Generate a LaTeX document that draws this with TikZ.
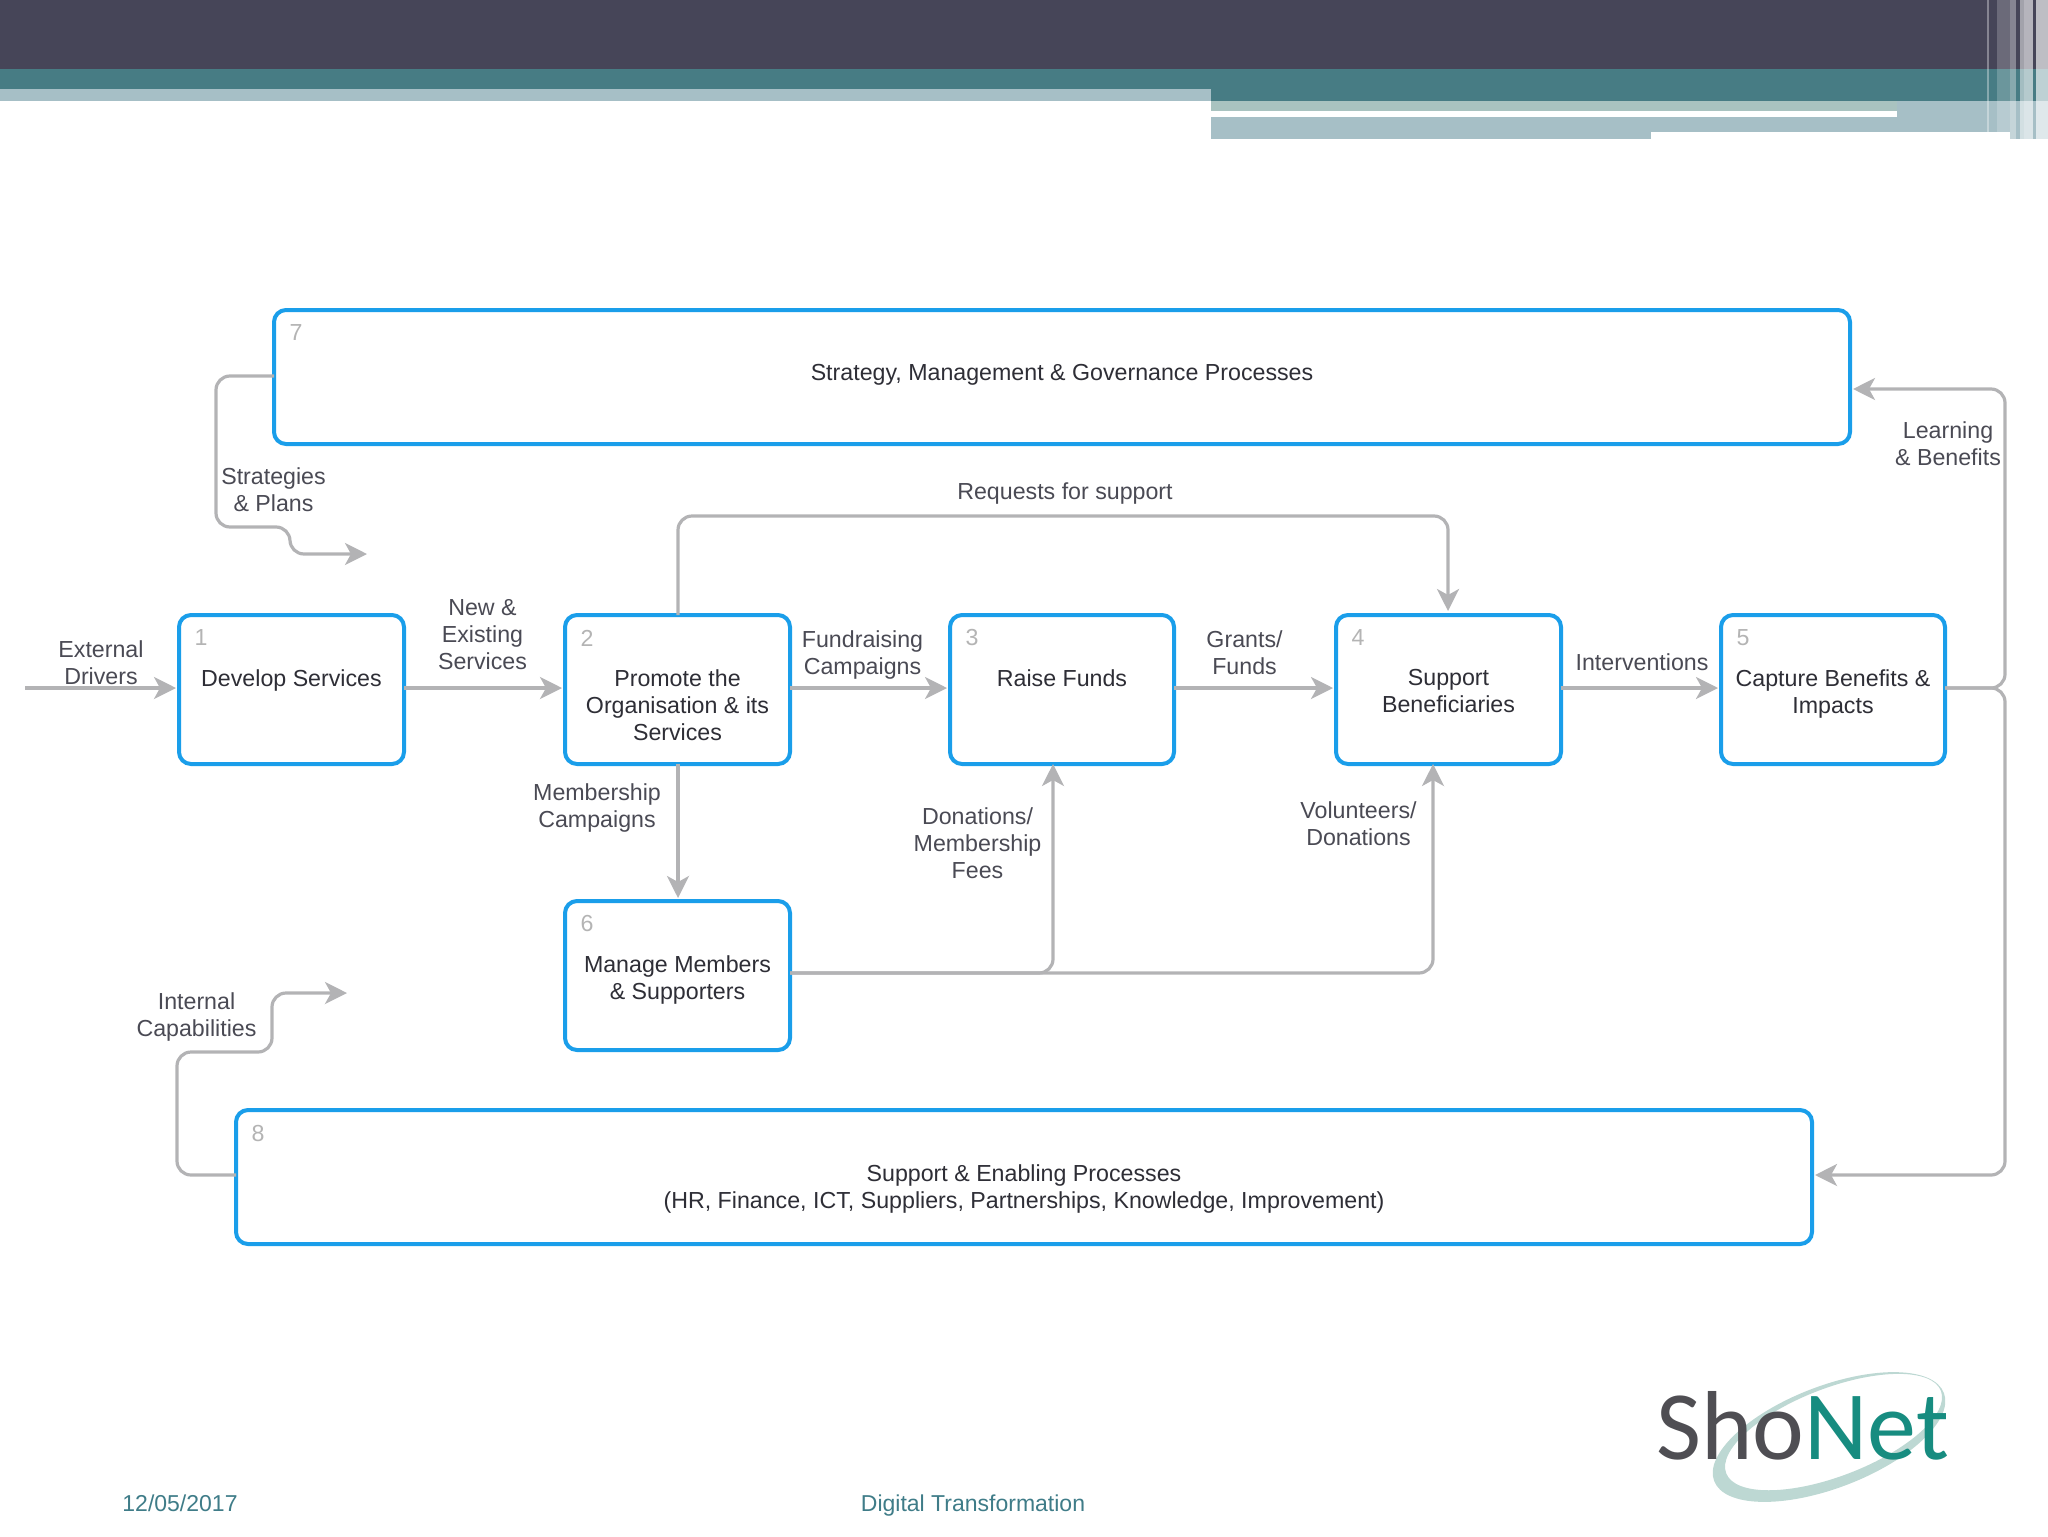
\documentclass[tikz,border=0pt]{standalone}
\usepackage{fontspec}
\setmainfont{Liberation Sans}
\newfontfamily\logofont{Carlito}
\usetikzlibrary{arrows.meta}
\definecolor{bandDark}{HTML}{464558}
\definecolor{bandTeal}{HTML}{477C84}
\definecolor{bandLight}{HTML}{A6BFC6}
\definecolor{bandSage}{HTML}{A9C3C0}
\definecolor{boxBlue}{HTML}{1A9EEA}
\definecolor{lineGray}{HTML}{B3B3B5}
\definecolor{labelInk}{HTML}{4A4A54}
\definecolor{boxInk}{HTML}{2E2E36}
\definecolor{numGray}{HTML}{B4B4B4}
\definecolor{footInk}{HTML}{3F7C88}
\definecolor{logoDark}{HTML}{4F4E53}
\definecolor{logoTeal}{HTML}{178C80}
\definecolor{logoRing}{HTML}{BDD8D3}
\newcommand{\procbody}[3]{\parbox[c][#2pt][t]{#1pt}{\centering\vspace*{27.2pt}#3\par}}
\tikzset{
  procbox/.style={draw=boxBlue,line width=2pt,rounded corners=6pt,inner sep=0pt,outer sep=0pt,fill=white,text=boxInk,font=\fontsize{11.6}{13.5}\selectfont},
  conn/.style={draw=lineGray,line width=1.6pt,rounded corners=7pt},
  arr/.style={conn,-{Stealth[length=11pt,width=11pt,inset=3pt]},shorten >=1.5pt},
  flowlabel/.style={text=labelInk,align=center,inner sep=0pt,font=\fontsize{11.6}{13.5}\selectfont},
  numlab/.style={text=numGray,inner sep=0pt,font=\fontsize{11.6}{13.5}\selectfont},
  footlabel/.style={text=footInk,inner sep=0pt,font=\fontsize{11.5}{13.5}\selectfont}
}
\begin{document}
\begin{tikzpicture}[x=0.5pt,y=-0.5pt]
\useasboundingbox (0,0) rectangle (2048,1536);
% header bands
\fill[bandDark] (0,0) rectangle (2048,69);
\fill[bandTeal] (0,69) rectangle (2048,101);
\fill[bandLight] (0,89) rectangle (1211,101);
\fill[bandLight] (1211,101) rectangle (2048,132);
\fill[bandSage] (1211,101) rectangle (1897,111);
\fill[bandLight] (1211,132) rectangle (1651,139);
\fill[white] (1211,111) rectangle (1897,117);
\fill[bandLight] (2010,132) rectangle (2048,139);
% light stripes at the right edge
\fill[white,opacity=.35] (1987,0) rectangle (1989,132);
\fill[white,opacity=.2] (1997,0) rectangle (2010,132);
\fill[white,opacity=.35] (2010,0) rectangle (2016,139);
\fill[white,opacity=.5] (2020,0) rectangle (2024,139);
\fill[white,opacity=.6] (2024,0) rectangle (2033,139);
\fill[white,opacity=.65] (2036,0) rectangle (2048,139);
% process boxes
\node[procbox,anchor=north west] (b7) at (274,310) {\procbody{788}{67}{Strategy, Management \& Governance Processes}};
\node[procbox,anchor=north west] (b8) at (236,1110) {\procbody{788}{67}{Support \& Enabling Processes\\(HR, Finance, ICT, Suppliers, Partnerships, Knowledge, Improvement)}};
\node[procbox,anchor=north west] (b1) at (179,615) {\procbody{112.5}{74.5}{Develop Services}};
\node[procbox,anchor=north west] (b2) at (565,615) {\procbody{112.5}{74.5}{Promote the\\Organisation \& its\\Services}};
\node[procbox,anchor=north west] (b3) at (950,615) {\procbody{112}{74.5}{Raise Funds}};
\node[procbox,anchor=north west] (b4) at (1336,615) {\procbody{112.5}{74.5}{Support\\Beneficiaries}};
\node[procbox,anchor=north west] (b5) at (1721,615) {\procbody{112}{74.5}{Capture Benefits \&\\Impacts}};
\node[procbox,anchor=north west] (b6) at (565,901) {\procbody{112.5}{74.5}{Manage Members\\\& Supporters}};
% box numbers
\foreach \b/\t in {b1/1,b2/2,b3/3,b4/4,b5/5,b6/6,b7/7,b8/8}
  \node[numlab] (n\t) at ([shift={(22,23)}]\b.north west) {\t};
% free ends and bends
\coordinate (extStart) at (25,688);
\coordinate (stratEnd) at (370,554);
\coordinate (capEnd) at (350,993);
\coordinate (reqTop) at (678,516);
\coordinate (rightRail) at (2005,688);
% connectors
\draw[arr] (extStart) -- (extStart -| b1.west);
\draw[arr] (b1.east |- extStart) -- (b2.west |- extStart);
\draw[arr] (b2.east |- extStart) -- (b3.west |- extStart);
\draw[arr] (b3.east |- extStart) -- (b4.west |- extStart);
\draw[arr] (b4.east |- extStart) -- (b5.west |- extStart);
\draw[arr] (b2.south -| reqTop) -- (b6.north -| reqTop);
\draw[arr] (b2.north -| reqTop) -- (reqTop) -- (1448,516) -- (1448,614);
\draw[arr] (b6.east |- 0,973) -- (1053,973) -- (1053,761);
\draw[arr] (b6.east |- 0,973) -- (1433,973) -- (1433,761);
\draw[arr] (b5.east |- extStart) -- (rightRail) -- (2005,389) -- (b7.east |- 0,389);
\draw[arr] (b5.east |- extStart) -- (rightRail) -- (2005,1175) -- (b8.east |- 0,1175);
\draw[arr] (b7.west |- 0,376) -- (216,376) -- (216,527) -- (290,527) -- (290,554) -- (stratEnd);
\draw[arr] (b8.west |- 0,1175) -- (177,1175) -- (177,1052) -- (272,1052) -- (272,993) -- (capEnd);
% flow labels
\node[flowlabel] (lExt) at (101,663) {External\\Drivers};
\node[flowlabel] (lNew) at (482.5,635) {New \&\\Existing\\Services};
\node[flowlabel] (lFund) at (862.5,655) {Fundraising\\Campaigns};
\node[flowlabel] (lGrant) at (1244.5,653) {Grants/\\Funds};
\node[flowlabel] (lInt) at (1642,662) {Interventions};
\node[flowlabel] (lMem) at (597,807.5) {Membership\\Campaigns};
\node[flowlabel] (lDon) at (977.5,843) {Donations/\\Membership\\Fees};
\node[flowlabel] (lVol) at (1358.5,824) {Volunteers/\\Donations};
\node[flowlabel] (lReq) at (1065,493.5) {Requests for support};
\node[flowlabel] (lStr) at (273.5,490) {Strategies\\\& Plans};
\node[flowlabel] (lLrn) at (1948,443.5) {Learning\\\& Benefits};
\node[flowlabel] (lCap) at (196.5,1017) {Internal\\Capabilities};
% footer
\node[footlabel] (fDate) at (180,1503) {12/05/2017};
\node[footlabel] (fTitle) at (973,1505.5) {Digital Transformation};
% logo
\fill[logoRing,even odd rule,rotate around={21:(1829,1437)}]
  (1829,1437) ellipse [x radius=123,y radius=51]
  (1835,1434) ellipse [x radius=115,y radius=44];
\node[anchor=base west,inner sep=0pt,font=\logofont\fontsize{49}{49}\selectfont] (logo) at (1656,1459)
  {\textcolor{logoDark}{Sho}\textcolor{logoTeal}{Net}};
\end{tikzpicture}
\end{document}
